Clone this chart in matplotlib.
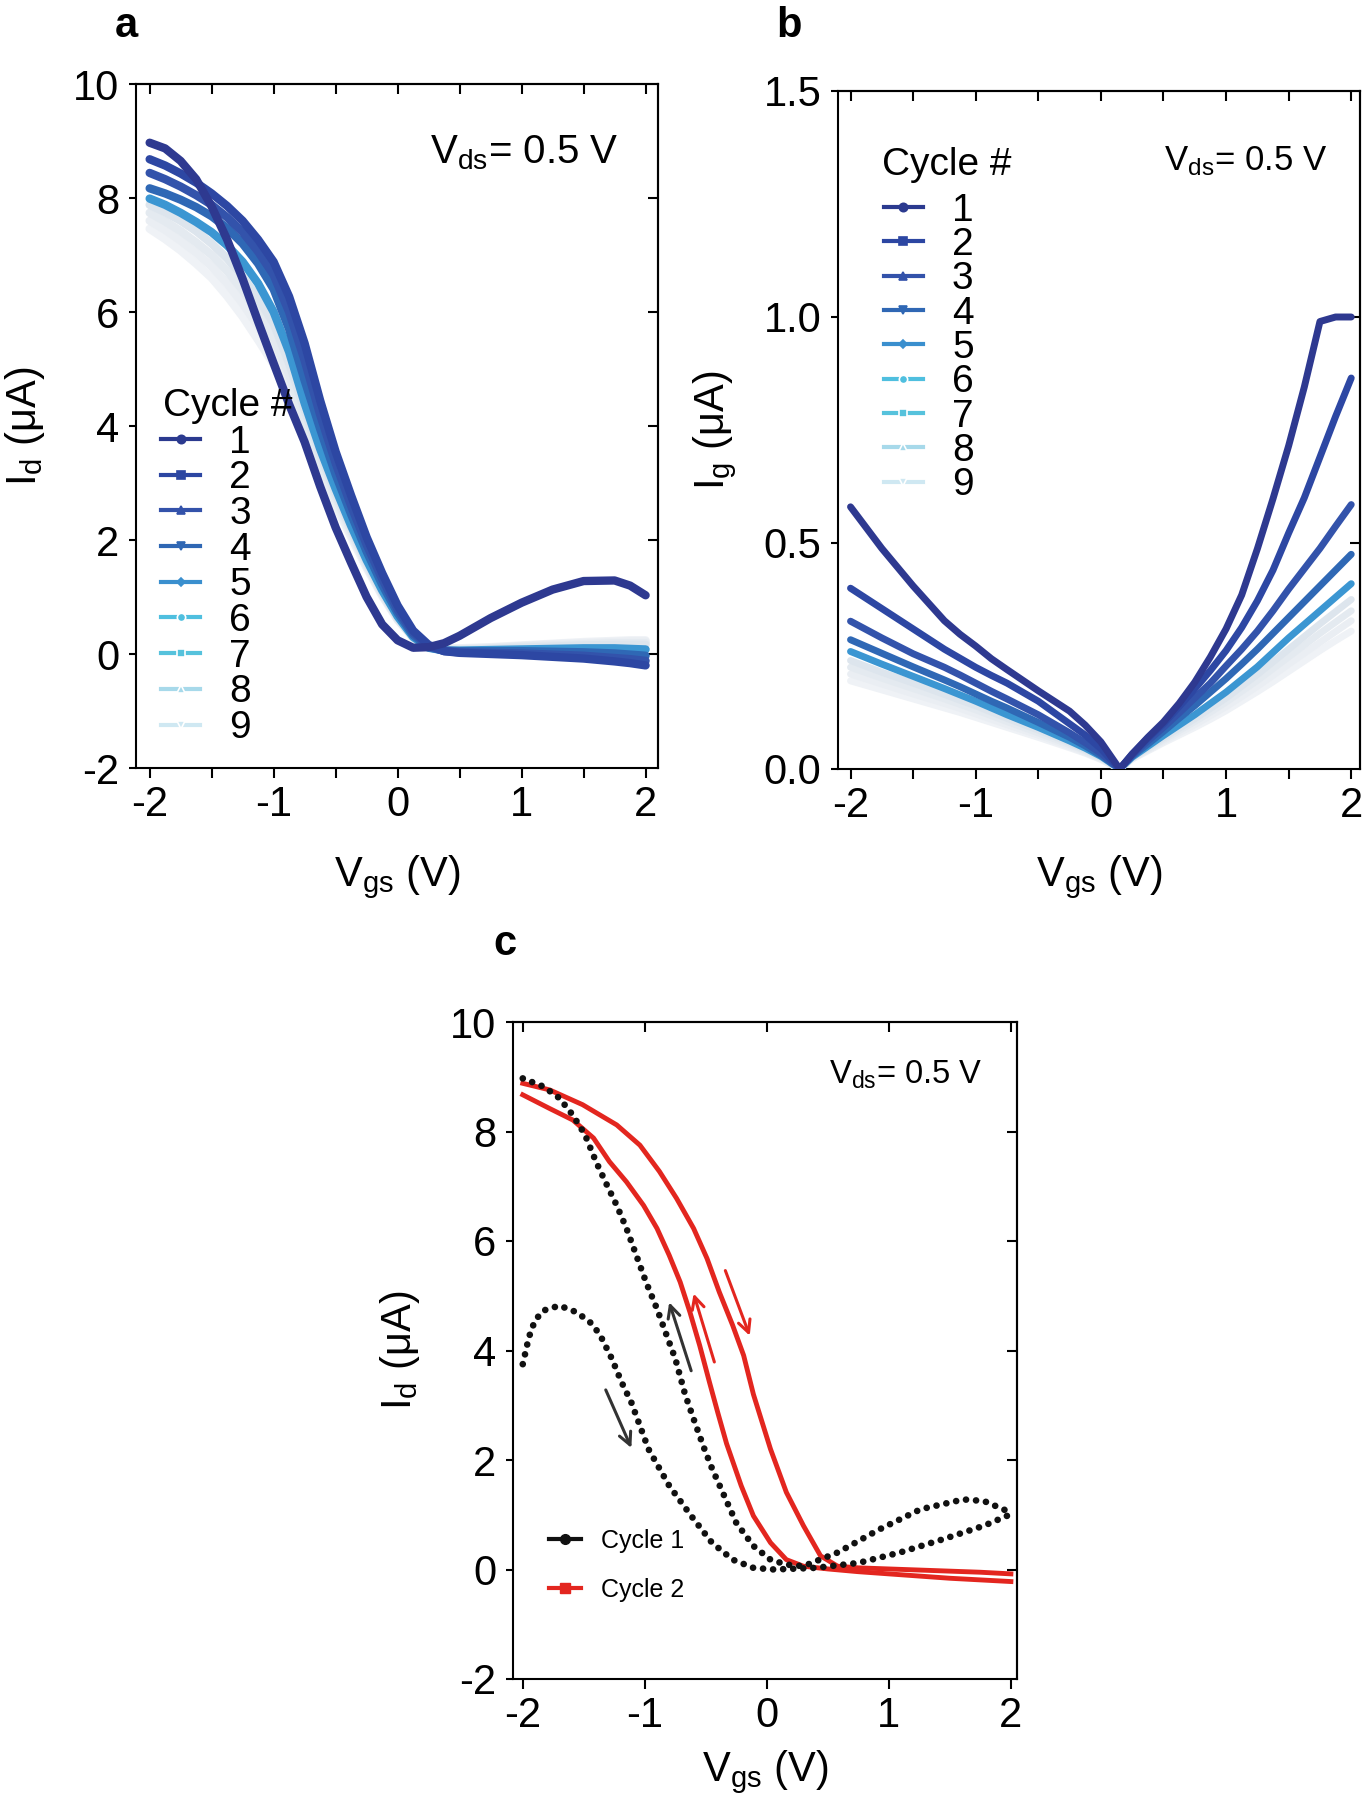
import matplotlib
matplotlib.use("Agg")
import matplotlib.pyplot as plt
from matplotlib.lines import Line2D

plt.rcParams['font.family'] = ['Liberation Sans', 'DejaVu Sans']
plt.rcParams['mathtext.fontset'] = 'custom'
plt.rcParams['mathtext.rm'] = 'Liberation Sans'
plt.rcParams['mathtext.it'] = 'Liberation Sans:italic'
plt.rcParams['mathtext.default'] = 'regular'
plt.rcParams['axes.unicode_minus'] = False

# --- DATA ---

# panel a: drain current, return sweeps of cycles 1..9
VGS_A = [-2.0, -1.875, -1.75, -1.625, -1.5, -1.375, -1.25, -1.125, -1.0, -0.875, -0.75,
         -0.625, -0.5, -0.375, -0.25, -0.125, 0.0, 0.125, 0.25, 0.375, 0.5, 0.75, 1.0,
         1.25, 1.5, 1.75, 1.875, 2.0]
ID_A_C1 = [8.97, 8.87, 8.65, 8.33, 7.85, 7.27, 6.58, 5.83, 5.10, 4.38, 3.72,
           2.94, 2.22, 1.60, 1.00, 0.52, 0.24, 0.11, 0.12, 0.19, 0.32, 0.63, 0.90,
           1.13, 1.28, 1.29, 1.20, 1.03]
ID_A_C2 = [8.68, 8.57, 8.43, 8.27, 8.08, 7.86, 7.60, 7.27, 6.88, 6.27, 5.45,
           4.45, 3.55, 2.78, 2.05, 1.42, 0.85, 0.41, 0.16, 0.05, 0.02, 0.00, -0.02,
           -0.05, -0.08, -0.13, -0.16, -0.20]
ID_A_C3 = [8.44, 8.33, 8.20, 8.05, 7.88, 7.66, 7.40, 7.06, 6.65, 6.00, 5.15,
           4.20, 3.35, 2.60, 1.92, 1.32, 0.78, 0.37, 0.14, 0.05, 0.03, 0.02, 0.01,
           -0.01, -0.03, -0.07, -0.09, -0.12]
ID_A_C4 = [8.17, 8.08, 7.97, 7.84, 7.68, 7.47, 7.20, 6.85, 6.40, 5.70, 4.80,
           3.95, 3.15, 2.45, 1.80, 1.22, 0.72, 0.33, 0.12, 0.06, 0.05, 0.05, 0.05,
           0.04, 0.03, 0.01, -0.01, -0.03]
ID_A_C5 = [7.99, 7.88, 7.74, 7.58, 7.40, 7.17, 6.88, 6.50, 6.00, 5.30, 4.40,
           3.60, 2.90, 2.25, 1.65, 1.12, 0.66, 0.30, 0.11, 0.06, 0.06, 0.07, 0.08,
           0.09, 0.10, 0.10, 0.09, 0.08]
ID_A_C6 = [7.88, 7.75, 7.60, 7.42, 7.20, 6.94, 6.62, 6.24, 5.80, 5.10, 4.28,
           3.50, 2.82, 2.20, 1.60, 1.08, 0.63, 0.29, 0.11, 0.07, 0.07, 0.09, 0.11,
           0.13, 0.15, 0.16, 0.16, 0.16]
ID_A_C7 = [7.74, 7.59, 7.42, 7.22, 7.00, 6.72, 6.38, 5.99, 5.56, 4.90, 4.12,
           3.40, 2.75, 2.15, 1.57, 1.06, 0.62, 0.29, 0.12, 0.08, 0.08, 0.10, 0.13,
           0.15, 0.17, 0.19, 0.19, 0.19]
ID_A_C8 = [7.60, 7.44, 7.25, 7.04, 6.80, 6.50, 6.15, 5.75, 5.32, 4.70, 3.97,
           3.30, 2.68, 2.10, 1.54, 1.04, 0.61, 0.29, 0.12, 0.09, 0.09, 0.11, 0.14,
           0.17, 0.19, 0.21, 0.22, 0.22]
ID_A_C9 = [7.46, 7.28, 7.08, 6.85, 6.60, 6.28, 5.92, 5.51, 5.08, 4.50, 3.82,
           3.20, 2.61, 2.05, 1.51, 1.02, 0.60, 0.29, 0.13, 0.10, 0.10, 0.12, 0.15,
           0.18, 0.21, 0.23, 0.24, 0.24]

# panel b: gate current
VGS_B = [-2.0, -1.75, -1.5, -1.25, -1.125, -1.0, -0.875, -0.75, -0.5, -0.25, -0.125, 0.0,
         0.15, 0.25, 0.375, 0.5, 0.625, 0.75, 0.875, 1.0, 1.125, 1.25, 1.375, 1.5,
         1.625, 1.75, 1.875, 2.0]
IG_B_C1 = [0.58, 0.488, 0.405, 0.328, 0.298, 0.272, 0.244, 0.22, 0.173, 0.128, 0.097, 0.06,
           0.0, 0.033, 0.07, 0.104, 0.145, 0.192, 0.248, 0.31, 0.385, 0.487, 0.598, 0.715,
           0.845, 0.99, 1.0, 1.0]
IG_B_C2 = [0.40, 0.355, 0.31, 0.265, 0.245, 0.225, 0.207, 0.19, 0.15, 0.10, 0.075, 0.045,
           0.0, 0.033, 0.068, 0.10, 0.138, 0.177, 0.218, 0.262, 0.313, 0.372, 0.44, 0.522,
           0.60, 0.69, 0.78, 0.865]
IG_B_C3 = [0.327, 0.29, 0.255, 0.225, 0.208, 0.19, 0.172, 0.155, 0.12, 0.08, 0.058, 0.035,
           0.0, 0.03, 0.062, 0.092, 0.124, 0.157, 0.19, 0.228, 0.265, 0.305, 0.35, 0.398,
           0.443, 0.488, 0.537, 0.585]
IG_B_C4 = [0.286, 0.256, 0.226, 0.197, 0.182, 0.166, 0.15, 0.135, 0.103, 0.07, 0.051, 0.03,
           0.0, 0.028, 0.055, 0.083, 0.112, 0.14, 0.17, 0.20, 0.232, 0.265, 0.30, 0.335,
           0.37, 0.405, 0.44, 0.475]
IG_B_C5 = [0.26, 0.232, 0.205, 0.178, 0.164, 0.15, 0.135, 0.12, 0.092, 0.062, 0.046, 0.028,
           0.0, 0.026, 0.05, 0.074, 0.097, 0.12, 0.145, 0.17, 0.198, 0.226, 0.258, 0.29,
           0.32, 0.35, 0.38, 0.41]
IG_B_C6 = [0.24, 0.214, 0.19, 0.165, 0.152, 0.14, 0.126, 0.112, 0.086, 0.058, 0.043, 0.026,
           0.0, 0.025, 0.047, 0.069, 0.09, 0.111, 0.134, 0.157, 0.183, 0.209, 0.237, 0.265,
           0.293, 0.321, 0.348, 0.375]
IG_B_C7 = [0.225, 0.201, 0.178, 0.155, 0.143, 0.131, 0.118, 0.105, 0.08, 0.054, 0.04, 0.024,
           0.0, 0.024, 0.044, 0.065, 0.085, 0.105, 0.126, 0.148, 0.172, 0.196, 0.222, 0.248,
           0.274, 0.30, 0.325, 0.35]
IG_B_C8 = [0.21, 0.188, 0.166, 0.145, 0.134, 0.122, 0.11, 0.098, 0.075, 0.05, 0.037, 0.022,
           0.0, 0.023, 0.042, 0.061, 0.08, 0.098, 0.118, 0.138, 0.16, 0.183, 0.207, 0.232,
           0.256, 0.28, 0.304, 0.328]
IG_B_C9 = [0.195, 0.175, 0.155, 0.135, 0.125, 0.114, 0.103, 0.092, 0.07, 0.047, 0.035, 0.021,
           0.0, 0.022, 0.04, 0.058, 0.075, 0.092, 0.11, 0.129, 0.15, 0.171, 0.193, 0.216,
           0.239, 0.262, 0.284, 0.305]

# panel c: full loops of cycle 1 and 2
VGS_C1_FWD = [-2.0, -1.95, -1.90, -1.83, -1.70, -1.56, -1.45, -1.37, -1.27, -1.19, -1.11,
              -0.97, -0.80, -0.62, -0.45, -0.28, -0.11, 0.06, 0.40, 0.75, 1.09, 1.44, 1.78, 2.0]
ID_C1_FWD = [3.75, 4.24, 4.55, 4.73, 4.82, 4.70, 4.52, 4.30, 3.85, 3.42, 3.05,
             2.20, 1.53, 0.98, 0.49, 0.18, 0.03, 0.0, 0.03, 0.12, 0.31, 0.55, 0.80, 1.01]
VGS_C1_REV = [-2.0, -1.83, -1.70, -1.59, -1.49, -1.40, -1.31, -1.23, -1.15, -1.07, -0.99,
              -0.90, -0.82, -0.75, -0.67, -0.60, -0.52, -0.45, -0.35, -0.25, -0.11, 0.03,
              0.16, 0.30, 0.58, 0.92, 1.26, 1.61, 1.78, 2.0]
ID_C1_REV = [8.97, 8.82, 8.61, 8.30, 7.94, 7.45, 7.02, 6.65, 6.23, 5.74, 5.25,
             4.76, 4.27, 3.85, 3.20, 2.75, 2.25, 1.85, 1.35, 0.85, 0.43, 0.18,
             0.09, 0.06, 0.31, 0.73, 1.10, 1.28, 1.25, 1.04]
VGS_C2_FWD = [-2.0, -1.78, -1.51, -1.23, -1.04, -0.88, -0.74, -0.60, -0.49, -0.39, -0.28,
              -0.19, -0.11, 0.03, 0.16, 0.30, 0.44, 0.58, 0.75, 1.0, 1.25, 1.5, 1.75, 2.0]
ID_C2_FWD = [8.88, 8.76, 8.49, 8.12, 7.75, 7.27, 6.78, 6.23, 5.68, 5.07, 4.46,
             3.91, 3.20, 2.20, 1.41, 0.80, 0.25, 0.06, 0.03, 0.01, -0.01, -0.03, -0.05, -0.08]
VGS_C2_REV = [-2.0, -1.78, -1.59, -1.42, -1.29, -1.15, -1.01, -0.90, -0.80, -0.71, -0.63,
              -0.55, -0.47, -0.40, -0.33, -0.21, -0.11, 0.03, 0.16, 0.30, 0.5, 0.75, 1.0,
              1.25, 1.5, 1.75, 2.0]
ID_C2_REV = [8.67, 8.42, 8.21, 7.88, 7.45, 7.08, 6.65, 6.23, 5.74, 5.25, 4.70,
             4.09, 3.42, 2.85, 2.30, 1.53, 0.98, 0.49, 0.18, 0.06, 0.01, -0.04, -0.08,
             -0.12, -0.16, -0.19, -0.22]

# sweep direction arrows in panel c: (tail, head, colour)
ARROWS_C = [((-1.32, 3.28), (-1.11, 2.22), '#333333'),
            ((-0.62, 3.63), (-0.80, 4.88), '#333333'),
            ((-0.43, 3.79), (-0.60, 5.04), '#e3261f'),
            ((-0.34, 5.46), (-0.14, 4.27), '#e3261f')]

CYCLE_LABELS = ['1', '2', '3', '4', '5', '6', '7', '8', '9']
LINE_COLORS = ['#2e3990', '#2d47a3', '#3353ab', '#2f68b5', '#3b96d2',
               '#dde5ed', '#e4eaf0', '#eaeef3', '#eff2f6']
LEG_COLORS = ['#2b3a8f', '#2c46a2', '#3352aa', '#2f67b4', '#3a8fce',
              '#4fbfdf', '#56c2dc', '#a7d9ea', '#cfe8f2']
MARKERS = ['o', 's', '^', 'v', 'D', 'o', 's', '^', 'v']

TICK_FS = 30
W, H = 1366, 1800


def ax_rect(left, top, right, bottom):
    return [left / W, 1 - bottom / H, (right - left) / W, (bottom - top) / H]


def style(ax, top_ticks, right_ticks, minor_x=None):
    for sp in ax.spines.values():
        sp.set_linewidth(1.5)
    ax.tick_params(axis='both', which='both', direction='out', width=1.5,
                   labelsize=TICK_FS, top=False, right=False)
    ax.tick_params(axis='x', which='both', length=7, pad=5)
    ax.tick_params(axis='y', which='both', length=5, pad=7)
    if minor_x:
        ax.set_xticks(minor_x, minor=True)
    sx = ax.secondary_xaxis('top')
    sx.set_xticks(top_ticks)
    sx.tick_params(direction='in', length=7, width=1.5, labeltop=False)
    sx.spines['top'].set_linewidth(1.5)
    sy = ax.secondary_yaxis('right')
    sy.set_yticks(right_ticks)
    sy.tick_params(direction='in', length=7, width=1.5, labelright=False)
    sy.spines['right'].set_linewidth(1.5)


def cycle_legend(ax, title_xy, anchor, spacing):
    ax.text(title_xy[0], title_xy[1], 'Cycle #', transform=ax.transAxes, fontsize=28,
            ha='left', va='baseline', zorder=6)
    handles = []
    for i in range(9):
        edge = 'white' if i >= 5 else LEG_COLORS[i]
        handles.append(Line2D([], [], color=LEG_COLORS[i], lw=3, marker=MARKERS[i],
                              markersize=6 if MARKERS[i] != 'D' else 4.5,
                              markerfacecolor=LEG_COLORS[i], markeredgecolor=edge,
                              markeredgewidth=1.2))
    ax.legend(handles, CYCLE_LABELS, loc='upper left', bbox_to_anchor=anchor,
              frameon=False, fontsize=28, handlelength=1.0, handletextpad=0.75,
              labelspacing=spacing, borderpad=0, borderaxespad=0)


fig = plt.figure(figsize=(W / 100, H / 100), dpi=100)

# --- panel a ---
ax_a = fig.add_axes(ax_rect(136, 84, 658, 768))
series_a = [ID_A_C1, ID_A_C2, ID_A_C3, ID_A_C4, ID_A_C5, ID_A_C6, ID_A_C7, ID_A_C8, ID_A_C9]
for i in range(8, -1, -1):
    ax_a.plot(VGS_A, series_a[i], color=LINE_COLORS[i], lw=6, solid_capstyle='round',
              solid_joinstyle='round', zorder=3 + (9 - i) * 0.1)
ax_a.set_xlim(-2.11, 2.1)
ax_a.set_ylim(-2, 10)
ax_a.set_xticks([-2, -1, 0, 1, 2])
ax_a.set_yticks([-2, 0, 2, 4, 6, 8, 10])
style(ax_a, [-2, -1.5, -1, -0.5, 0, 0.5, 1, 1.5, 2], [0, 2, 4, 6, 8], [-1.5, -0.5, 0.5, 1.5])
ax_a.set_xlabel(r'V$_{gs}$ (V)', fontsize=30)
ax_a.xaxis.set_label_coords(0.5, -0.125)
ax_a.set_ylabel('I$_{d}$ (\u03bcA)', fontsize=30)
ax_a.yaxis.set_label_coords(-0.17, 0.5)
ax_a.text(0.26, 8.61, r'V$_{ds}$= 0.5 V', fontsize=29, ha='left', va='baseline')
cycle_legend(ax_a, (0.052, 0.515), (0.048, 0.502), -0.008)

# --- panel b ---
ax_b = fig.add_axes(ax_rect(838, 91, 1360, 769))
series_b = [IG_B_C1, IG_B_C2, IG_B_C3, IG_B_C4, IG_B_C5, IG_B_C6, IG_B_C7, IG_B_C8, IG_B_C9]
for i in range(8, -1, -1):
    ax_b.plot(VGS_B, series_b[i], color=LINE_COLORS[i], lw=5, solid_capstyle='round',
              solid_joinstyle='round', zorder=3 + (9 - i) * 0.1)
ax_b.set_xlim(-2.1, 2.07)
ax_b.set_ylim(0, 1.5)
ax_b.set_xticks([-2, -1, 0, 1, 2])
ax_b.set_yticks([0.0, 0.5, 1.0, 1.5])
ax_b.set_yticklabels(['0.0', '0.5', '1.0', '1.5'])
style(ax_b, [-2, -1.5, -1, -0.5, 0, 0.5, 1, 1.5, 2], [0.5, 1.0], [-1.5, -0.5, 0.5, 1.5])
ax_b.set_xlabel(r'V$_{gs}$ (V)', fontsize=30)
ax_b.xaxis.set_label_coords(0.5, -0.124)
ax_b.set_ylabel('I$_{g}$ (\u03bcA)', fontsize=30)
ax_b.yaxis.set_label_coords(-0.19, 0.5)
ax_b.text(0.507, 1.325, r'V$_{ds}$= 0.5 V', fontsize=25, ha='left', va='baseline')
cycle_legend(ax_b, (0.084, 0.876), (0.088, 0.850), -0.043)

# --- panel c ---
ax_c = fig.add_axes(ax_rect(513, 1022, 1017, 1679))
for xs, ys in [(VGS_C1_FWD, ID_C1_FWD), (VGS_C1_REV, ID_C1_REV)]:
    ax_c.plot(xs, ys, color='#111111', lw=4.8, linestyle=(0, (0.01, 1.5)),
              dash_capstyle='round', zorder=4)
for xs, ys in [(VGS_C2_FWD, ID_C2_FWD), (VGS_C2_REV, ID_C2_REV)]:
    ax_c.plot(xs, ys, color='#e3261f', lw=3.5, solid_joinstyle='round', zorder=3)
for tail, head, col in ARROWS_C:
    ax_c.annotate('', xy=head, xytext=tail,
                  arrowprops=dict(arrowstyle='->', color=col, lw=2.2,
                                  mutation_scale=22, shrinkA=0, shrinkB=0))
ax_c.set_xlim(-2.08, 2.05)
ax_c.set_ylim(-2, 10)
ax_c.set_xticks([-2, -1, 0, 1, 2])
ax_c.set_yticks([-2, 0, 2, 4, 6, 8, 10])
style(ax_c, [-2, -1, 0, 1, 2], [0, 2, 4, 6, 8])
ax_c.set_xlabel(r'V$_{gs}$ (V)', fontsize=30)
ax_c.xaxis.set_label_coords(0.5, -0.105)
ax_c.set_ylabel(r'I$_{d}$ ($\mu$A)', fontsize=30)
ax_c.yaxis.set_label_coords(-0.18, 0.5)
ax_c.text(0.51, 8.88, r'V$_{ds}$= 0.5 V', fontsize=23.5, ha='left', va='baseline')
h1 = Line2D([], [], color='#111111', lw=3, marker='o', markersize=7)
h2 = Line2D([], [], color='#e3261f', lw=3, marker='s', markersize=7)
ax_c.legend([h1, h2], ['Cycle 1', 'Cycle 2'], loc='upper left', bbox_to_anchor=(0.071, 0.228),
            frameon=False, fontsize=18, handlelength=1.3, handletextpad=0.8,
            labelspacing=1.0, borderpad=0, borderaxespad=0)

# --- panel letters ---
fig.text(126 / W, 1 - 37 / H, 'a', fontsize=30, fontweight='bold', ha='center', va='baseline')
fig.text(789 / W, 1 - 37 / H, 'b', fontsize=30, fontweight='bold', ha='center', va='baseline')
fig.text(505 / W, 1 - 955 / H, 'c', fontsize=30, fontweight='bold', ha='center', va='baseline')

fig.savefig('out.png', dpi=100)
